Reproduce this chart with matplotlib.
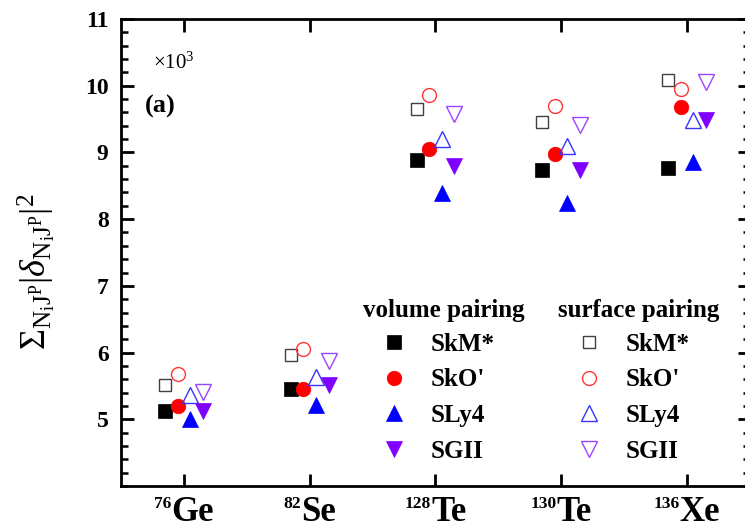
import matplotlib
matplotlib.use('Agg')
import matplotlib.pyplot as plt
from matplotlib.offsetbox import TextArea, HPacker, AnnotationBbox

plt.rcParams['font.family'] = 'Liberation Serif'
plt.rcParams['mathtext.fontset'] = 'custom'
plt.rcParams['mathtext.rm'] = 'Liberation Serif'
plt.rcParams['mathtext.it'] = 'Liberation Serif:italic'
plt.rcParams['mathtext.bf'] = 'Liberation Serif:bold'

# nuclei on the x axis
mass = ['76', '82', '128', '130', '136']
element = ['Ge', 'Se', 'Te', 'Te', 'Xe']

forces = ['SkM*', "SkO'", 'SLy4', 'SGII']

# values (x10^3)
vol_skm = [5.13, 5.45, 8.89, 8.74, 8.76]
vol_sko = [5.20, 5.46, 9.05, 8.98, 9.68]
vol_sly4 = [5.00, 5.21, 8.39, 8.24, 8.86]
vol_sgii = [5.12, 5.51, 8.80, 8.74, 9.49]

surf_skm = [5.52, 5.96, 9.65, 9.45, 10.09]
surf_sko = [5.68, 6.05, 9.86, 9.69, 9.95]
surf_sly4 = [5.37, 5.64, 9.20, 9.09, 9.49]
surf_sgii = [5.41, 5.87, 9.58, 9.41, 10.06]

volume = [vol_skm, vol_sko, vol_sly4, vol_sgii]
surface = [surf_skm, surf_sko, surf_sly4, surf_sgii]

# style per force
markers = ['s', 'o', '^', 'v']
fill_cols = ['#000000', '#ff0000', '#0000ff', '#8000ff']
edge_cols = ['#404040', '#ff3535', '#3535ff', '#9a45ff']
ms_fill = [9.5, 10.5, 11, 11]
ms_open = [9, 10, 11, 11]
offsets = [-0.15, -0.05, 0.05, 0.15]

fig = plt.figure(figsize=(7.45, 5.32), dpi=100)
ax = fig.add_axes([0.1625, 0.0865, 0.844, 0.8778])

xpos = list(range(1, len(mass) + 1))
h_vol, h_surf = [], []
for k in range(4):
    xs = [x + offsets[k] for x in xpos]
    lv, = ax.plot(xs, volume[k], ls='none', marker=markers[k], ms=ms_fill[k],
                  color=fill_cols[k], mec=fill_cols[k], mew=0.5)
    ls, = ax.plot(xs, surface[k], ls='none', marker=markers[k], ms=ms_open[k],
                  mfc='none', mec=edge_cols[k], mew=1.0)
    h_vol.append(lv)
    h_surf.append(ls)

ax.set_xlim(0.5, 5.5)
ax.set_ylim(4, 11)
ax.set_xticks(xpos)
ax.set_xticklabels([''] * len(xpos))
ax.set_yticks(range(5, 12))
ax.set_yticks([4 + 0.2 * i for i in range(36)], minor=True)

for s in ax.spines.values():
    s.set_linewidth(2)
ax.tick_params(axis='both', which='major', direction='in', length=9, width=2,
               top=True, right=True)
ax.tick_params(axis='y', which='minor', direction='in', length=5, width=1.8,
               right=True)
ax.tick_params(axis='y', labelsize=17, pad=9)
for lbl in ax.get_yticklabels():
    lbl.set_fontweight('bold')

# nucleus labels with small superscript mass numbers
for x, a, el in zip(xpos, mass, element):
    box = HPacker(children=[
        TextArea(a, textprops=dict(fontsize=12.5, fontweight='bold', family='Liberation Serif')),
        TextArea(el, textprops=dict(fontsize=25, fontweight='bold', family='Liberation Serif')),
    ], align='top', pad=0, sep=0)
    ab = AnnotationBbox(box, (x, 0), xycoords=ax.get_xaxis_transform(),
                        xybox=(0, -7), boxcoords='offset points',
                        box_alignment=(0.5, 1), frameon=False, pad=0,
                        annotation_clip=False)
    ax.add_artist(ab)

ax.set_ylabel(r'$\Sigma_{\mathrm{N_iJ^P}}|\delta_{\mathrm{N_iJ^P}}|^2$', fontsize=26)
ax.yaxis.set_label_coords(-0.102, 0.46)

ax.text(0.051, 0.906, r'$\times\mathrm{10^3}$', transform=ax.transAxes, fontsize=15,
        ha='left', va='center')
ax.text(0.038, 0.812, '(a)', transform=ax.transAxes, fontsize=19, fontweight='bold',
        ha='left', va='center')

# legends
ax.text(363 / 745, 1 - 310 / 532, 'volume pairing', transform=fig.transFigure,
        fontsize=18, fontweight='bold', ha='left', va='center')
ax.text(558 / 745, 1 - 310 / 532, 'surface pairing', transform=fig.transFigure,
        fontsize=18, fontweight='bold', ha='left', va='center')

leg_kw = dict(loc='upper left', frameon=False, borderpad=0, borderaxespad=0,
              handlelength=1.0, handletextpad=1.0, labelspacing=0.5,
              prop=dict(family='Liberation Serif', weight='bold', size=18),
              bbox_transform=fig.transFigure)
leg1 = ax.legend(h_vol, forces, bbox_to_anchor=(381 / 745, 1 - 333 / 532), **leg_kw)
ax.add_artist(leg1)
ax.legend(h_surf, forces, bbox_to_anchor=(576 / 745, 1 - 333 / 532), **leg_kw)

fig.savefig('out.png', dpi=100)
